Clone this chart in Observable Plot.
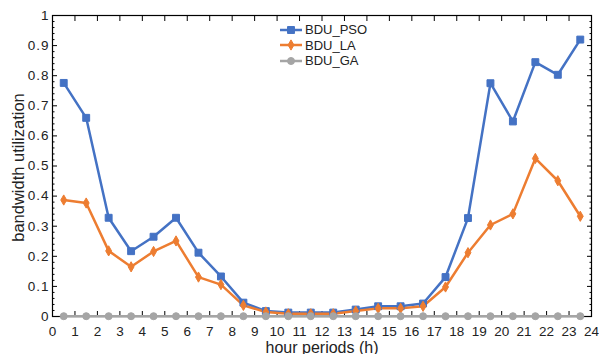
<!DOCTYPE html>
<html><head><meta charset="utf-8">
<script src="https://cdn.jsdelivr.net/npm/d3@7"></script>
<script src="https://cdn.jsdelivr.net/npm/@observablehq/plot@0.6"></script>
<style>
body{margin:0;background:#fff}
#wrap{position:relative;width:599px;height:354px;font-family:"Liberation Sans",Arial,sans-serif;overflow:hidden}
#legend{position:absolute;left:279px;top:22px;font-size:13px;color:#222}
.row{display:flex;align-items:center;height:15.5px}
.row svg{margin-right:2px}
</style></head><body><div id="wrap"></div>
<script>
const hours = [0.5,1.5,2.5,3.5,4.5,5.5,6.5,7.5,8.5,9.5,10.5,11.5,12.5,13.5,14.5,15.5,16.5,17.5,18.5,19.5,20.5,21.5,22.5,23.5];
const seriesNames = ["BDU_PSO","BDU_LA","BDU_GA"];
const pso = [0.776,0.660,0.328,0.217,0.265,0.328,0.212,0.133,0.046,0.018,0.013,0.013,0.013,0.023,0.034,0.034,0.043,0.131,0.327,0.775,0.648,0.845,0.803,0.920];
const la  = [0.387,0.377,0.218,0.165,0.216,0.251,0.131,0.106,0.037,0.015,0.009,0.009,0.009,0.018,0.027,0.027,0.034,0.098,0.212,0.304,0.341,0.525,0.451,0.333];
const ga  = [0.001,0.001,0.001,0.001,0.001,0.001,0.001,0.001,0.001,0.001,0.001,0.001,0.001,0.001,0.001,0.001,0.001,0.001,0.001,0.001,0.001,0.001,0.001,0.001];
const colors = ["#4472C4","#ED7D31","#A5A5A5"];
const xTicks = [0,1,2,3,4,5,6,7,8,9,10,11,12,13,14,15,16,17,18,19,20,21,22,23,24];
const yMajor = [0,0.1,0.2,0.3,0.4,0.5,0.6,0.7,0.8,0.9,1];
const yMinor = [0.02,0.04,0.06,0.08,0.12,0.14,0.16,0.18,0.22,0.24,0.26,0.28,0.32,0.34,0.36,0.38,0.42,0.44,0.46,0.48,0.52,0.54,0.56,0.58,0.62,0.64,0.66,0.68,0.72,0.74,0.76,0.78,0.82,0.84,0.86,0.88,0.92,0.94,0.96,0.98];

const valuesBySeries = [pso, la, ga];
const data = [];
seriesNames.forEach((s, i) => hours.forEach((h, j) => data.push({series: s, hour: h, value: valuesBySeries[i][j]})));
const sym = {"BDU_PSO": "square", "BDU_LA": "diamond", "BDU_GA": "circle"};
const rad = {"BDU_PSO": 3.9, "BDU_LA": 3.1, "BDU_GA": 3.5};

const dotMarks = seriesNames.map((s, i) => Plot.dot(data.filter(d => d.series === s), {
  x: "hour", y: "value", symbol: () => sym[s], r: rad[s], fill: colors[i], stroke: colors[i], strokeWidth: 1
}));

const plot = Plot.plot({
  width: 599, height: 354,
  marginLeft: 52, marginRight: 8, marginTop: 15, marginBottom: 38,
  style: {fontFamily: '"Liberation Sans", Arial, sans-serif', fontSize: "13px", color: "#222", background: "#fff"},
  x: {domain: [0, 24]},
  y: {domain: [0, 1]},
  color: {domain: seriesNames, range: colors},
  symbol: {domain: ["square","diamond","circle"], range: ["square","diamond","circle"]},
  marks: [
    Plot.axisY(yMajor, {anchor: "left", tickSize: 0, tickPadding: 3, label: null, fontSize: 13.5, tickFormat: d => String(+d.toFixed(1))}),
    Plot.axisY(yMajor, {anchor: "left", tickSize: 5, dx: 5, label: null, tickFormat: () => "", stroke: "#000"}),
    Plot.axisY(yMinor, {anchor: "left", tickSize: 2.5, dx: 2.5, label: null, tickFormat: () => "", stroke: "#000"}),
    Plot.axisY(yMajor, {anchor: "right", tickSize: 5, dx: -5, label: null, tickFormat: () => "", stroke: "#000"}),
    Plot.axisY(yMinor, {anchor: "right", tickSize: 2.5, dx: -2.5, label: null, tickFormat: () => "", stroke: "#000"}),
    Plot.axisX(xTicks, {anchor: "bottom", tickSize: 0, tickPadding: 10, label: null, fontSize: 13.5}),
    Plot.axisX(xTicks, {anchor: "bottom", tickSize: 5, dy: -5, label: null, tickFormat: () => "", stroke: "#000"}),
    Plot.axisX(xTicks, {anchor: "top", tickSize: 5, dy: 5, label: null, tickFormat: () => "", stroke: "#000"}),
    Plot.frame({stroke: "#000", strokeWidth: 1.2}),
    Plot.line(data, {x: "hour", y: "value", z: "series", stroke: "series", strokeWidth: 2.5}),
    ...dotMarks,
    Plot.text(["bandwidth utilization"], {frameAnchor: "left", textAnchor: "middle", lineAnchor: "middle", rotate: -90, dx: -34, dy: 1.5, fontSize: 16.5, fill: "#222"}),
    Plot.text(["hour periods (h)"], {frameAnchor: "bottom", textAnchor: "middle", lineAnchor: "middle", dy: 31, fontSize: 16, fill: "#222"})
  ]
});

const wrap = document.getElementById("wrap");
wrap.appendChild(plot);
d3.select(plot).selectAll('g[aria-label="y-axis tick label"] text').style("letter-spacing", "1px");

const legend = d3.select(wrap).append("div").attr("id", "legend");
seriesNames.forEach((s, i) => {
  const row = legend.append("div").attr("class", "row");
  const svg = row.append("svg").attr("width", 24).attr("height", 12);
  svg.append("line").attr("x1", 1).attr("x2", 23).attr("y1", 6).attr("y2", 6).attr("stroke", colors[i]).attr("stroke-width", 2.5);
  const symType = {square: d3.symbolSquare, diamond: d3.symbolDiamond, circle: d3.symbolCircle}[sym[s]];
  svg.append("path").attr("transform", "translate(12,6)")
    .attr("d", d3.symbol(symType, Math.PI * rad[s] * rad[s])())
    .attr("fill", colors[i]).attr("stroke", colors[i]);
  row.append("span").text(s);
});
</script>
</body></html>
